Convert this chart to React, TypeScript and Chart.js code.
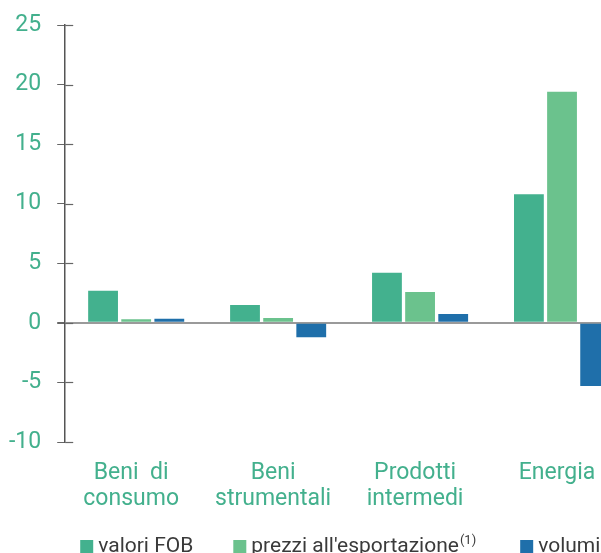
import React, { useEffect, useRef } from "react";
import { Chart, registerables } from "chart.js";

Chart.register(...registerables);

const categories: (string | string[])[] = [
  ["Beni  di", "consumo"],
  ["Beni", "strumentali"],
  ["Prodotti", "intermedi"],
  "Energia",
];
const seriesNames = ["valori FOB", "prezzi all'esportazione", "volumi"];
const seriesNotes = ["", "(1)", ""];
const valoriFOB = [2.7, 1.5, 4.2, 10.8];
const prezziEsportazione = [0.3, 0.4, 2.6, 19.4];
const volumi = [0.35, -1.2, 0.75, -5.3];
const yMin = -10;
const yMax = 25;
const yStep = 5;

const colors = ["#43B18E", "#6BC28D", "#1F6FAA"];
const textTeal = "#43B08D";

const innerTicks = {
  id: "innerTicks",
  afterDraw(chart: any) {
    const y = chart.scales.y;
    const ctx = chart.ctx;
    const x0 = chart.chartArea.left;
    ctx.save();
    ctx.strokeStyle = "#666";
    ctx.lineWidth = 1.2;
    y.ticks.forEach((t: any) => {
      const py = Math.round(y.getPixelForValue(t.value)) + 0.5;
      ctx.beginPath();
      ctx.moveTo(x0, py);
      ctx.lineTo(x0 + 8, py);
      ctx.stroke();
    });
    ctx.restore();
  },
};

const legendGaps = [40, 44];

const bottomLegend = {
  id: "bottomLegend",
  afterDraw(chart: any) {
    const ctx = chart.ctx;
    const baseline = 544;
    const box = 13;
    let x = chart.chartArea.left + 15;
    ctx.save();
    ctx.textBaseline = "alphabetic";
    ctx.textAlign = "left";
    chart.data.datasets.forEach((ds: any, i: number) => {
      ctx.fillStyle = ds.backgroundColor;
      ctx.fillRect(x, baseline - 12, box, box);
      ctx.fillStyle = "#3a3a3a";
      ctx.font = "21px Roboto";
      let tx = x + box + 5;
      ctx.fillText(ds.label, tx, baseline);
      tx += ctx.measureText(ds.label).width;
      const note = seriesNotes[i];
      if (note) {
        ctx.font = "13px Roboto";
        ctx.fillText(note, tx + 1, baseline - 8);
        tx += ctx.measureText(note).width + 1;
      }
      x = tx + (legendGaps[i] || 0);
    });
    ctx.restore();
  },
};

export default function App() {
  const ref = useRef<HTMLCanvasElement>(null);
  useEffect(() => {
    const chart = new Chart(ref.current!, {
      type: "bar",
      data: {
        labels: categories,
        datasets: [valoriFOB, prezziEsportazione, volumi].map((d, i) => ({
          label: seriesNames[i],
          data: d,
          backgroundColor: colors[i],
          borderWidth: 0,
          categoryPercentage: 0.7,
          barPercentage: 0.9,
        })),
      },
      options: {
        animation: false,
        responsive: false,
        maintainAspectRatio: false,
        layout: { padding: { top: 17, left: -15, right: 35, bottom: 38 } },
        plugins: {
          tooltip: { enabled: false },
          legend: { display: false },
        },
        scales: {
          x: {
            grid: { display: false, drawTicks: false },
            border: { display: false },
            ticks: {
              color: textTeal,
              padding: 18,
              labelOffset: -5,
              maxRotation: 0,
              autoSkip: false,
              font: { family: "Roboto", size: 23, lineHeight: 1.13 },
            },
          },
          y: {
            min: yMin,
            max: yMax,
            afterFit: (s: any) => {
              s.paddingTop = 0;
              s.paddingBottom = 0;
            },
            border: { display: true, color: "#555", width: 1.5 },
            grid: {
              drawTicks: true,
              tickLength: 8,
              tickColor: "#666",
              color: (c: any) => (c.tick && c.tick.value === 0 ? "#9a9a9a" : "rgba(0,0,0,0)"),
              lineWidth: (c: any) => (c.tick && c.tick.value === 0 ? 2 : 1),
            },
            ticks: {
              stepSize: yStep,
              color: textTeal,
              padding: 16,
              font: { family: "Roboto", size: 23 },
            },
          },
        },
      },
      plugins: [innerTicks, bottomLegend],
    });
    return () => chart.destroy();
  }, []);
  return (
    <div style={{ position: "fixed", left: 8, top: 8, width: 593, height: 545, overflow: "hidden" }}>
      <canvas ref={ref} width={660} height={560} style={{ display: "block" }} />
    </div>
  );
}
